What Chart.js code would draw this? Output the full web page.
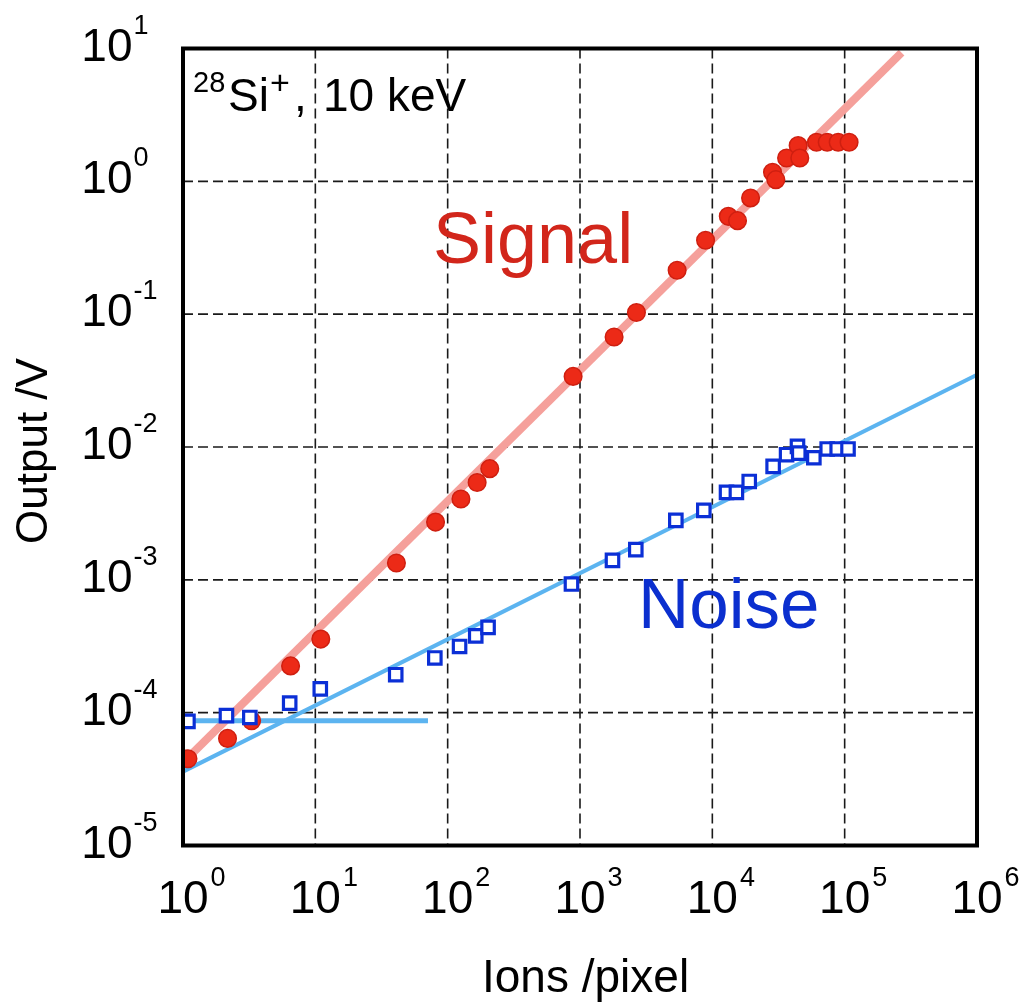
<!DOCTYPE html>
<html>
<head>
<meta charset="utf-8">
<title>Output vs ions per pixel</title>
<script src="https://cdn.jsdelivr.net/npm/chart.js@4.4.1/dist/chart.umd.min.js"></script>
<style>
  html, body { margin: 0; padding: 0; background: #fff; }
  canvas { display: block; }
</style>
</head>
<body>
<canvas id="chart" width="1030" height="1007"></canvas>
<script>
// Decade ticks of both log axes
const xTicks = [1, 10, 100, 1e3, 1e4, 1e5, 1e6];
const yTicks = [1e-5, 1e-4, 1e-3, 1e-2, 1e-1, 1, 10];
const xExponents = [0, 1, 2, 3, 4, 5, 6];
const yExponents = [-5, -4, -3, -2, -1, 0, 1];

// Signal (red dots)
const signalX = [1.09, 2.17, 3.3, 6.5, 11, 41, 81, 126, 167, 208, 887, 1810, 2670, 5420, 8890,
  13200, 15500, 19450, 28500, 30200, 36400, 44500, 45800, 61300, 73800, 89300, 108000];
const signalY = [4.5e-5, 6.4e-5, 8.7e-5, 2.25e-4, 3.58e-4, 1.34e-3, 2.72e-3, 4.06e-3, 5.4e-3, 6.87e-3,
  0.034, 0.0673, 0.103, 0.214, 0.36, 0.545, 0.506, 0.75, 1.17, 1.03, 1.5, 1.86, 1.5, 1.97, 1.97, 1.97, 1.97];

// Noise (blue squares)
const noiseX = [1.09, 2.13, 3.2, 6.4, 10.9, 40.5, 80, 123, 163, 202, 862, 1760, 2640, 5300, 8620,
  12800, 15200, 19000, 28800, 36400, 44000, 45000, 58500, 73800, 87800, 106000];
const noiseY = [8.6e-5, 9.5e-5, 9.2e-5, 1.18e-4, 1.51e-4, 1.93e-4, 2.58e-4, 3.15e-4, 3.79e-4, 4.39e-4,
  9.3e-4, 1.4e-3, 1.69e-3, 2.8e-3, 3.33e-3, 4.55e-3, 4.55e-3, 5.5e-3, 7.14e-3, 8.75e-3, 0.0101, 9.0e-3,
  8.3e-3, 9.66e-3, 9.66e-3, 9.66e-3];

// Fitted lines (end points)
const signalFitX = [1, 2.69e5];
const signalFitY = [4.2e-5, 9.3];
const noiseFitX = [1, 1e6];
const noiseFitY = [3.6e-5, 0.035];
const floorX = [1, 71];
const floorY = [8.7e-5, 8.7e-5];

const FONT = "'Liberation Sans', Arial, Helvetica, sans-serif";
const toPoints = (xs, ys) => xs.map((x, i) => ({ x: x, y: ys[i] }));

// "10" with a raised exponent
function drawPower(ctx, exp, x, baseline, align) {
  ctx.font = '46px ' + FONT;
  const w = ctx.measureText('10').width;
  const left = align === 'right' ? x - w : x - w / 2;
  ctx.fillText('10', left, baseline);
  ctx.font = '27px ' + FONT;
  ctx.fillText(String(exp), left + w + (align === 'right' ? 1 : 2), baseline - 27);
}

const decor = {
  id: 'decor',
  beforeDatasetsDraw(chart) {
    const { ctx, chartArea: a, scales: { x, y } } = chart;
    ctx.save();
    ctx.strokeStyle = '#1a1a1a';
    ctx.lineWidth = 1.6;
    ctx.setLineDash([10, 5]);
    xTicks.slice(1, -1).forEach(v => {
      const px = x.getPixelForValue(v);
      ctx.beginPath();
      ctx.moveTo(px, a.top);
      ctx.lineTo(px, a.bottom);
      ctx.stroke();
    });
    yTicks.slice(1, -1).forEach(v => {
      const py = y.getPixelForValue(v);
      ctx.beginPath();
      ctx.moveTo(a.left, py);
      ctx.lineTo(a.right, py);
      ctx.stroke();
    });
    ctx.restore();
  },
  afterDraw(chart) {
    const { ctx, chartArea: a, scales: { x, y } } = chart;
    ctx.save();
    // cadre
    ctx.strokeStyle = '#000';
    ctx.lineWidth = 4;
    ctx.strokeRect(a.left, a.top, a.right - a.left, a.bottom - a.top);

    ctx.fillStyle = '#000';
    ctx.textAlign = 'left';
    ctx.textBaseline = 'alphabetic';
    yTicks.forEach((v, i) => drawPower(ctx, yExponents[i], 132.5, y.getPixelForValue(v) + 12, 'right'));
    xTicks.forEach((v, i) => drawPower(ctx, xExponents[i], x.getPixelForValue(v), 913, 'center'));

    // axis titles
    ctx.font = '46px ' + FONT;
    ctx.fillText('Ions /pixel', 482, 992);
    ctx.save();
    ctx.translate(47, 451);
    ctx.rotate(-Math.PI / 2);
    ctx.textAlign = 'center';
    ctx.font = '44px ' + FONT;
    ctx.fillText('Output /V', 0, 0);
    ctx.restore();

    // ion label
    ctx.font = '29px ' + FONT;
    ctx.fillText('28', 193, 92);
    ctx.font = '46px ' + FONT;
    ctx.fillText('Si', 228, 111);
    ctx.font = '34px ' + FONT;
    ctx.fillText('+', 270, 94);
    ctx.font = '46px ' + FONT;
    ctx.fillText(',', 294, 111);
    ctx.fillText('10 keV', 323, 111);

    // series labels
    ctx.font = '72px ' + FONT;
    ctx.fillStyle = '#d2261b';
    ctx.fillText('Signal', 433, 263);
    ctx.font = '71px ' + FONT;
    ctx.fillStyle = '#0b2fcf';
    ctx.fillText('Noise', 638, 628);
    ctx.restore();
  }
};

const lineSet = (data, color, width, order) => ({
  data: data,
  showLine: true,
  borderColor: color,
  borderWidth: width,
  pointRadius: 0,
  fill: false,
  order: order
});

new Chart(document.getElementById('chart'), {
  type: 'scatter',
  data: {
    datasets: [
      lineSet(toPoints(signalFitX, signalFitY), '#f5a09b', 8, 5),
      lineSet(toPoints(noiseFitX, noiseFitY), '#5cb4f0', 4, 4),
      lineSet(toPoints(floorX, floorY), '#5cb4f0', 5, 3),
      {
        label: 'Signal',
        data: toPoints(signalX, signalY),
        pointStyle: 'circle',
        pointRadius: 8.8,
        pointBackgroundColor: '#ec2a17',
        pointBorderColor: '#cf1f10',
        pointBorderWidth: 1.5,
        order: 2
      },
      {
        label: 'Noise',
        data: toPoints(noiseX, noiseY),
        pointStyle: 'rect',
        pointRadius: 8.8,
        pointBackgroundColor: '#ffffff',
        pointBorderColor: '#0b2fd6',
        pointBorderWidth: 3.2,
        order: 1
      }
    ]
  },
  options: {
    responsive: false,
    animation: false,
    layout: { padding: { top: 48.5, right: 53, left: 0, bottom: 0 } },
    plugins: {
      legend: { display: false },
      tooltip: { enabled: false }
    },
    scales: {
      x: {
        type: 'logarithmic',
        min: 1,
        max: 1e6,
        grid: { display: false },
        border: { display: false },
        ticks: { display: false },
        afterFit: s => { s.height = 161.5; }
      },
      y: {
        type: 'logarithmic',
        min: 1e-5,
        max: 10,
        grid: { display: false },
        border: { display: false },
        ticks: { display: false },
        afterFit: s => { s.width = 183; }
      }
    }
  },
  plugins: [decor]
});
</script>
</body>
</html>
